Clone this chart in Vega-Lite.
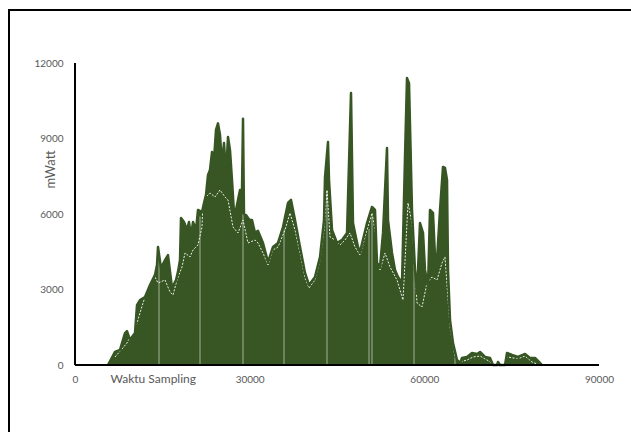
{
  "$schema": "https://vega.github.io/schema/vega-lite/v6.json",
  "autosize": {"type": "none"},
  "padding": {"left": 9, "top": 10, "right": 0, "bottom": 0},
  "width": 640,
  "height": 440,
  "background": "#ffffff",
  "config": {
    "view": {"stroke": "#000000", "strokeWidth": 2},
    "axis": {"labelFont": "Lato", "titleFont": "Lato", "labelColor": "#595959", "titleColor": "#595959", "grid": false, "ticks": false, "domain": false}
  },
  "datasets": {
    "env": [
      {"waktu": 5668, "mwatt": 0}, {"waktu": 6870, "mwatt": 520}, {"waktu": 7729, "mwatt": 600}, {"waktu": 8588, "mwatt": 1270},
      {"waktu": 8932, "mwatt": 1350}, {"waktu": 9447, "mwatt": 1000}, {"waktu": 10306, "mwatt": 1270}, {"waktu": 10649, "mwatt": 2380},
      {"waktu": 11164, "mwatt": 2580}, {"waktu": 12023, "mwatt": 2700}, {"waktu": 12882, "mwatt": 3180}, {"waktu": 13741, "mwatt": 3580},
      {"waktu": 14084, "mwatt": 3970}, {"waktu": 14256, "mwatt": 4690}, {"waktu": 14771, "mwatt": 3850}, {"waktu": 15458, "mwatt": 4170},
      {"waktu": 15974, "mwatt": 4370}, {"waktu": 16661, "mwatt": 3060}, {"waktu": 17348, "mwatt": 3380}, {"waktu": 17691, "mwatt": 3700},
      {"waktu": 18035, "mwatt": 4170}, {"waktu": 18207, "mwatt": 5840}, {"waktu": 18722, "mwatt": 5680}, {"waktu": 19237, "mwatt": 5370},
      {"waktu": 19581, "mwatt": 5680}, {"waktu": 19924, "mwatt": 5130}, {"waktu": 20268, "mwatt": 5680}, {"waktu": 20783, "mwatt": 5370},
      {"waktu": 21126, "mwatt": 6160}, {"waktu": 21813, "mwatt": 6080}, {"waktu": 22157, "mwatt": 6440}, {"waktu": 22501, "mwatt": 6760},
      {"waktu": 22844, "mwatt": 7550}, {"waktu": 23188, "mwatt": 7750}, {"waktu": 23531, "mwatt": 8460}, {"waktu": 23875, "mwatt": 8150},
      {"waktu": 24218, "mwatt": 9340}, {"waktu": 24562, "mwatt": 9600}, {"waktu": 24905, "mwatt": 9140}, {"waktu": 25249, "mwatt": 7950},
      {"waktu": 25592, "mwatt": 8820}, {"waktu": 25936, "mwatt": 7550}, {"waktu": 26279, "mwatt": 9060}, {"waktu": 26623, "mwatt": 8540},
      {"waktu": 26966, "mwatt": 7350}, {"waktu": 27310, "mwatt": 6040}, {"waktu": 27653, "mwatt": 6160}, {"waktu": 27997, "mwatt": 6560},
      {"waktu": 28340, "mwatt": 6950}, {"waktu": 28684, "mwatt": 6950}, {"waktu": 28856, "mwatt": 9780}, {"waktu": 29027, "mwatt": 6000},
      {"waktu": 29371, "mwatt": 5960}, {"waktu": 29714, "mwatt": 5840}, {"waktu": 30058, "mwatt": 5760}, {"waktu": 30401, "mwatt": 5760},
      {"waktu": 30917, "mwatt": 5250}, {"waktu": 31432, "mwatt": 5330}, {"waktu": 32291, "mwatt": 4850}, {"waktu": 33150, "mwatt": 4090},
      {"waktu": 34008, "mwatt": 4690}, {"waktu": 34867, "mwatt": 4850}, {"waktu": 35726, "mwatt": 5480}, {"waktu": 36585, "mwatt": 6440},
      {"waktu": 37100, "mwatt": 6560}, {"waktu": 37787, "mwatt": 5760}, {"waktu": 38646, "mwatt": 4690}, {"waktu": 39505, "mwatt": 3660},
      {"waktu": 40192, "mwatt": 3180}, {"waktu": 41222, "mwatt": 3500}, {"waktu": 42081, "mwatt": 4290}, {"waktu": 42768, "mwatt": 5760},
      {"waktu": 42940, "mwatt": 7470}, {"waktu": 43455, "mwatt": 8860}, {"waktu": 43627, "mwatt": 7350}, {"waktu": 44142, "mwatt": 5370},
      {"waktu": 45001, "mwatt": 4850}, {"waktu": 45860, "mwatt": 4970}, {"waktu": 46719, "mwatt": 5250}, {"waktu": 47406, "mwatt": 10810},
      {"waktu": 47749, "mwatt": 5640}, {"waktu": 48093, "mwatt": 5250}, {"waktu": 48608, "mwatt": 4690}, {"waktu": 48952, "mwatt": 4490},
      {"waktu": 50154, "mwatt": 5640}, {"waktu": 51013, "mwatt": 6280}, {"waktu": 51528, "mwatt": 6160}, {"waktu": 51872, "mwatt": 4060},
      {"waktu": 52387, "mwatt": 3890}, {"waktu": 52902, "mwatt": 5250}, {"waktu": 53589, "mwatt": 8620}, {"waktu": 53761, "mwatt": 5760},
      {"waktu": 54448, "mwatt": 4450}, {"waktu": 54963, "mwatt": 3780}, {"waktu": 55478, "mwatt": 3500}, {"waktu": 56165, "mwatt": 3260},
      {"waktu": 56681, "mwatt": 8270}, {"waktu": 57024, "mwatt": 11400}, {"waktu": 57368, "mwatt": 11200}, {"waktu": 57883, "mwatt": 6160},
      {"waktu": 58398, "mwatt": 3780}, {"waktu": 58742, "mwatt": 2860}, {"waktu": 59257, "mwatt": 5640}, {"waktu": 59772, "mwatt": 5250},
      {"waktu": 60116, "mwatt": 3780}, {"waktu": 60631, "mwatt": 3100}, {"waktu": 60974, "mwatt": 6160}, {"waktu": 61490, "mwatt": 6040},
      {"waktu": 61834, "mwatt": 4290}, {"waktu": 62177, "mwatt": 4170}, {"waktu": 62692, "mwatt": 6160}, {"waktu": 63208, "mwatt": 7870},
      {"waktu": 63551, "mwatt": 7830}, {"waktu": 63895, "mwatt": 7350}, {"waktu": 64066, "mwatt": 3780}, {"waktu": 64410, "mwatt": 1790},
      {"waktu": 64925, "mwatt": 870}, {"waktu": 65612, "mwatt": 200}, {"waktu": 66128, "mwatt": 80}, {"waktu": 66471, "mwatt": 280},
      {"waktu": 67330, "mwatt": 320}, {"waktu": 68189, "mwatt": 480}, {"waktu": 69048, "mwatt": 440}, {"waktu": 69563, "mwatt": 520},
      {"waktu": 70422, "mwatt": 320}, {"waktu": 71280, "mwatt": 280}, {"waktu": 71796, "mwatt": 0}, {"waktu": 72483, "mwatt": 0},
      {"waktu": 72654, "mwatt": 120}, {"waktu": 72998, "mwatt": 0}, {"waktu": 73857, "mwatt": 0}, {"waktu": 74200, "mwatt": 480},
      {"waktu": 75059, "mwatt": 400}, {"waktu": 76089, "mwatt": 320}, {"waktu": 77292, "mwatt": 440}, {"waktu": 78150, "mwatt": 280},
      {"waktu": 79009, "mwatt": 280}, {"waktu": 79524, "mwatt": 160}, {"waktu": 80211, "mwatt": 0}
    ],
    "inner": [
      {"waktu": 6870, "mwatt": 318}, {"waktu": 8932, "mwatt": 874}, {"waktu": 10649, "mwatt": 1669}, {"waktu": 11679, "mwatt": 2464},
      {"waktu": 12882, "mwatt": 3259}, {"waktu": 13741, "mwatt": 3497}, {"waktu": 14256, "mwatt": 3259}, {"waktu": 15458, "mwatt": 3378},
      {"waktu": 16317, "mwatt": 2901}, {"waktu": 16832, "mwatt": 2782}, {"waktu": 17520, "mwatt": 3378}, {"waktu": 18378, "mwatt": 3894},
      {"waktu": 18894, "mwatt": 4451}, {"waktu": 19752, "mwatt": 4292}, {"waktu": 20268, "mwatt": 4570}, {"waktu": 21126, "mwatt": 4769},
      {"waktu": 21813, "mwatt": 5484}, {"waktu": 21985, "mwatt": 6557}, {"waktu": 23188, "mwatt": 6835}, {"waktu": 24046, "mwatt": 6676},
      {"waktu": 24905, "mwatt": 6955}, {"waktu": 25764, "mwatt": 6676}, {"waktu": 26279, "mwatt": 6557}, {"waktu": 27138, "mwatt": 5484},
      {"waktu": 27997, "mwatt": 5246}, {"waktu": 28856, "mwatt": 5762}, {"waktu": 29714, "mwatt": 4848}, {"waktu": 30917, "mwatt": 4968},
      {"waktu": 31432, "mwatt": 4848}, {"waktu": 32291, "mwatt": 4451}, {"waktu": 33150, "mwatt": 3974}, {"waktu": 34008, "mwatt": 4570},
      {"waktu": 34867, "mwatt": 4689}, {"waktu": 36070, "mwatt": 5365}, {"waktu": 36928, "mwatt": 6040}, {"waktu": 37787, "mwatt": 5365},
      {"waktu": 38646, "mwatt": 4451}, {"waktu": 39505, "mwatt": 3457}, {"waktu": 40192, "mwatt": 3060}, {"waktu": 41222, "mwatt": 3378},
      {"waktu": 42081, "mwatt": 4173}, {"waktu": 42768, "mwatt": 5365}, {"waktu": 43283, "mwatt": 6955}, {"waktu": 43799, "mwatt": 5087},
      {"waktu": 44658, "mwatt": 4968}, {"waktu": 45516, "mwatt": 4769}, {"waktu": 46375, "mwatt": 4968}, {"waktu": 47234, "mwatt": 5246},
      {"waktu": 48093, "mwatt": 4689}, {"waktu": 48952, "mwatt": 4371}, {"waktu": 50154, "mwatt": 5365}, {"waktu": 51013, "mwatt": 6040},
      {"waktu": 51528, "mwatt": 5365}, {"waktu": 52387, "mwatt": 3775}, {"waktu": 53246, "mwatt": 4451}, {"waktu": 54104, "mwatt": 3894},
      {"waktu": 55306, "mwatt": 3378}, {"waktu": 56337, "mwatt": 2583}, {"waktu": 57196, "mwatt": 6438}, {"waktu": 57883, "mwatt": 5643},
      {"waktu": 58742, "mwatt": 2464}, {"waktu": 59601, "mwatt": 2305}, {"waktu": 60459, "mwatt": 3259}, {"waktu": 61318, "mwatt": 3497},
      {"waktu": 62177, "mwatt": 3378}, {"waktu": 63036, "mwatt": 4053}, {"waktu": 63551, "mwatt": 4292}, {"waktu": 64410, "mwatt": 1510},
      {"waktu": 65269, "mwatt": 318}, {"waktu": 66128, "mwatt": 119}, {"waktu": 67330, "mwatt": 199}, {"waktu": 68360, "mwatt": 318},
      {"waktu": 69563, "mwatt": 358}, {"waktu": 70765, "mwatt": 199}, {"waktu": 71624, "mwatt": 79}, {"waktu": 74372, "mwatt": 318},
      {"waktu": 75231, "mwatt": 278}, {"waktu": 76433, "mwatt": 278}, {"waktu": 77292, "mwatt": 358}, {"waktu": 78494, "mwatt": 119},
      {"waktu": 79352, "mwatt": 40}
    ],
    "gaps": [
      {"waktu": 14428, "mwatt": 4300, "base": 0}, {"waktu": 21470, "mwatt": 5900, "base": 0}, {"waktu": 28856, "mwatt": 6000, "base": 0},
      {"waktu": 35900, "mwatt": 5400, "base": 0}, {"waktu": 43280, "mwatt": 6900, "base": 0}, {"waktu": 50500, "mwatt": 5400, "base": 0},
      {"waktu": 51010, "mwatt": 5900, "base": 0}, {"waktu": 58230, "mwatt": 4000, "base": 0}, {"waktu": 65270, "mwatt": 300, "base": 0}
    ],
    "origin": [{"waktu": 0, "mwatt": 0, "waktuEnd": 90000, "mwattEnd": 12000}]
  },
  "layer": [
    {
      "data": {"name": "env"},
      "mark": {"type": "area", "color": "#375623", "interpolate": "linear"},
      "encoding": {
        "x": {
          "field": "waktu", "type": "quantitative",
          "scale": {"domain": [-11336, 98588], "nice": false, "zero": false},
          "axis": {"values": [0, 30000, 60000, 90000], "format": "d", "offset": -85, "labelPadding": 9, "labelFontSize": 10, "labelFlush": false,
                   "title": "Waktu Sampling", "titleFontSize": 12, "titleFontWeight": "normal", "titleX": 101, "titleY": 17,
                   "titleAlign": "left", "titleAnchor": "start", "titleBaseline": "alphabetic"}
        },
        "y": {
          "field": "mwatt", "type": "quantitative",
          "scale": {"domain": [-3377, 14106], "nice": false, "zero": false},
          "axis": {"values": [0, 3000, 6000, 9000, 12000], "format": "d", "offset": -66, "labelPadding": 12, "labelFontSize": 10, "labelFlush": false,
                   "title": "mWatt", "titleFontSize": 13, "titleFontWeight": "normal", "titleX": -25, "titleY": 159,
                   "titleAlign": "center", "titleBaseline": "middle", "titleAngle": -90}
        },
        "y2": {"datum": 0}
      }
    },
    {
      "data": {"name": "gaps"},
      "mark": {"type": "rule", "color": "#ffffff", "strokeWidth": 1, "opacity": 0.55},
      "encoding": {
        "x": {"field": "waktu", "type": "quantitative"},
        "y": {"field": "mwatt", "type": "quantitative"},
        "y2": {"field": "base"}
      }
    },
    {
      "data": {"name": "inner"},
      "mark": {"type": "line", "color": "#ffffff", "strokeWidth": 1, "strokeDash": [2, 1.5], "opacity": 0.9},
      "encoding": {
        "x": {"field": "waktu", "type": "quantitative"},
        "y": {"field": "mwatt", "type": "quantitative"}
      }
    },
    {
      "data": {"name": "env"},
      "mark": {"type": "line", "color": "#375623", "strokeWidth": 2.5, "strokeJoin": "round"},
      "encoding": {
        "x": {"field": "waktu", "type": "quantitative"},
        "y": {"field": "mwatt", "type": "quantitative"}
      }
    },
    {
      "data": {"name": "origin"},
      "mark": {"type": "rule", "color": "#000000", "strokeWidth": 2},
      "encoding": {
        "x": {"field": "waktu", "type": "quantitative"},
        "x2": {"field": "waktuEnd"},
        "y": {"field": "mwatt", "type": "quantitative"}
      }
    },
    {
      "data": {"name": "origin"},
      "mark": {"type": "rule", "color": "#000000", "strokeWidth": 2},
      "encoding": {
        "x": {"field": "waktu", "type": "quantitative"},
        "y": {"field": "mwatt", "type": "quantitative"},
        "y2": {"field": "mwattEnd"}
      }
    }
  ]
}
